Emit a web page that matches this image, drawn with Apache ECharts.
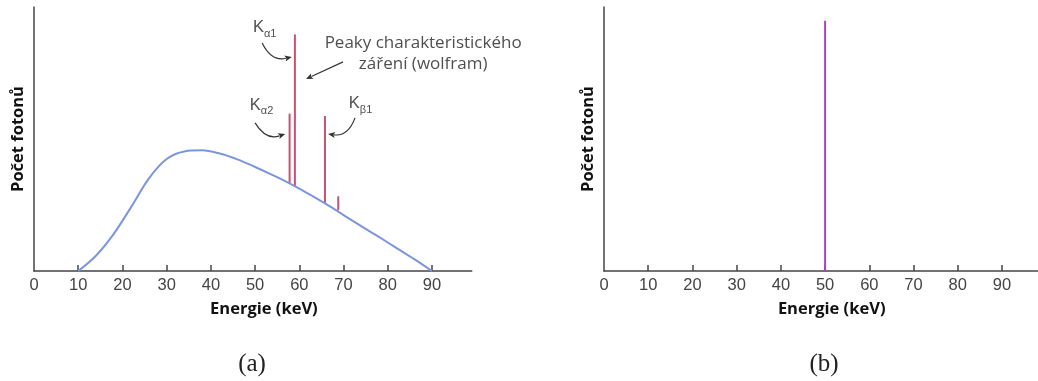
<!DOCTYPE html>
<html>
<head>
<meta charset="utf-8">
<script src="https://cdn.jsdelivr.net/npm/echarts@6/dist/echarts.min.js"></script>
<style>
  html, body { margin: 0; padding: 0; background: #fff; }
  #chart { width: 1038px; height: 381px; }
</style>
</head>
<body>
<div id="chart"></div>
<script>
// (a) continuous bremsstrahlung spectrum of a tungsten anode
const spectrumEnergy = [10, 14, 18, 22, 26, 30, 34, 38, 42, 46, 50, 54, 58, 62, 66, 70, 74, 78, 82, 86, 90];
const spectrumCounts = [0, 5.8, 14, 24.3, 35.1, 42.4, 45.3, 45.7, 44.5, 42.3, 39.4, 36.3, 33, 29.3, 25.4, 21.2, 17, 12.9, 8.7, 4.5, 0];

// (a) characteristic lines: energy, foot (on the continuum) and top
const lineNames  = ['Kα2', 'Kα1', 'Kβ1', ''];
const lineEnergy = [57.8, 59.0, 65.8, 68.8];
const lineBase   = [33.0, 32.2, 25.8, 23.0];
const lineTop    = [59.6, 89.6, 58.7, 28.3];

// (b) monoenergetic beam
const monoEnergy = [50];
const monoBase   = [0];
const monoTop    = [94.8];

// axis ticks and labels (keV)
const tickValues  = [10, 20, 30, 40, 50, 60, 70, 80, 90];
const labelValues = [0, 10, 20, 30, 40, 50, 60, 70, 80, 90];

// annotation anchors in data units (keV, counts)
const kLabelText = ['{k|K}{s|α2}', '{k|K}{s|α1}', '{k|K}{s|β1}'];
const kLabelX = [48.8, 49.5, 71.2];
const kLabelY = [61.4, 90.9, 62.1];
const arrowFrom = [[50.0, 56.1], [51.6, 86.4], [72.6, 58.0], [69.9, 79.2]];
const arrowTo   = [[56.8, 51.9], [58.3, 81.1], [66.5, 51.9], [61.5, 72.7]];
const arrowBend = [-0.4, -0.4, 0.4, 0];
const noteText = 'Peaky charakteristického\nzáření (wolfram)';
const notePos = [88.0, 82.4];

const chart = echarts.init(document.getElementById('chart'), null, { renderer: 'canvas' });

const axisColor = '#444';
const pxPerKeV = 4.422;

function xAxisFor(gridIndex, max) {
  return {
    type: 'value', gridIndex, min: 0, max, interval: 10,
    name: 'Energie (keV)', nameLocation: 'middle', nameGap: 30,
    nameTextStyle: { fontFamily: 'Open Sans', fontWeight: 'bold', fontSize: 16.5, color: '#111', padding: [0, 0, 0, 22] },
    axisLine: { show: true, onZero: false, lineStyle: { color: axisColor, width: 1.5 } },
    axisTick: { show: true, inside: true, length: 6, customValues: tickValues, lineStyle: { color: axisColor, width: 1.5 } },
    axisLabel: { show: true, margin: 6, customValues: labelValues, fontFamily: 'Liberation Sans', fontSize: 16.5, color: '#444' },
    splitLine: { show: false }
  };
}
function yAxisFor(gridIndex) {
  return {
    type: 'value', gridIndex, min: 0, max: 100,
    name: 'Počet fotonů', nameLocation: 'middle', nameRotate: 90, nameGap: 7,
    nameTextStyle: { fontFamily: 'Open Sans', fontWeight: 'bold', fontSize: 16.5, color: '#111' },
    axisLine: { show: true, lineStyle: { color: axisColor, width: 1.5 } },
    axisTick: { show: false },
    axisLabel: { show: false },
    splitLine: { show: false }
  };
}

// vertical stick from [x, base] to [x, top]
function renderStick(params, api) {
  const p0 = api.coord([api.value(0), api.value(1)]);
  const p1 = api.coord([api.value(0), api.value(2)]);
  return {
    type: 'line',
    shape: { x1: p0[0], y1: p0[1], x2: p1[0], y2: p1[1] },
    style: { stroke: api.visual('color'), lineWidth: 2 }
  };
}

// curved pointer arrow from [x0, y0] to [x1, y1], bent by the last value
function renderArrow(params, api) {
  const a = api.coord([api.value(0), api.value(1)]);
  const b = api.coord([api.value(2), api.value(3)]);
  const bend = api.value(4);
  const cx = (a[0] + b[0]) / 2 - (a[1] - b[1]) * bend;
  const cy = (a[1] + b[1]) / 2 - (b[0] - a[0]) * bend;
  let dx = b[0] - cx, dy = b[1] - cy;
  const len = Math.hypot(dx, dy) || 1;
  dx /= len; dy /= len;
  const headL = 7, headW = 3;
  const hx = b[0] - dx * headL, hy = b[1] - dy * headL;
  return {
    type: 'group',
    children: [
      {
        type: 'bezierCurve',
        shape: { x1: a[0], y1: a[1], x2: hx + dx, y2: hy + dy, cpx1: cx, cpy1: cy },
        style: { stroke: '#333', lineWidth: 1.2, fill: null }
      },
      {
        type: 'polygon',
        shape: { points: [[b[0], b[1]], [hx - dy * headW, hy + dx * headW], [hx + dx * 1.5, hy + dy * 1.5], [hx + dy * headW, hy - dx * headW]] },
        style: { fill: '#333' }
      }
    ]
  };
}

const option = {
  animation: false,
  backgroundColor: '#fff',
  grid: [
    { left: 34, top: 7, width: 99 * pxPerKeV, height: 264 },
    { left: 604, top: 7, width: 98 * pxPerKeV, height: 264 }
  ],
  xAxis: [xAxisFor(0, 99), xAxisFor(1, 98)],
  yAxis: [yAxisFor(0), yAxisFor(1)],
  graphic: [
    { type: 'text', x: 252, y: 364, style: { text: '(a)', fontFamily: 'Liberation Serif', fontSize: 25, fill: '#222', align: 'center', verticalAlign: 'middle' } },
    { type: 'text', x: 824, y: 364, style: { text: '(b)', fontFamily: 'Liberation Serif', fontSize: 25, fill: '#222', align: 'center', verticalAlign: 'middle' } }
  ],
  series: [
    {
      name: 'Brzdné záření', type: 'line', xAxisIndex: 0, yAxisIndex: 0,
      data: spectrumEnergy.map((e, i) => [e, spectrumCounts[i]]),
      smooth: 0.35, showSymbol: false, silent: true,
      lineStyle: { color: '#7b96e0', width: 2 }
    },
    {
      name: 'Charakteristické záření', type: 'custom', xAxisIndex: 0, yAxisIndex: 0,
      renderItem: renderStick, silent: true,
      itemStyle: { color: '#cc5072' },
      encode: { x: 0, y: [1, 2] },
      data: lineEnergy.map((e, i) => [e, lineBase[i], lineTop[i]])
    },
    {
      name: 'Šipky', type: 'custom', xAxisIndex: 0, yAxisIndex: 0,
      renderItem: renderArrow, silent: true,
      encode: { x: [0, 2], y: [1, 3] },
      data: arrowFrom.map((f, i) => [f[0], f[1], arrowTo[i][0], arrowTo[i][1], arrowBend[i]])
    },
    {
      name: 'Popisky', type: 'scatter', xAxisIndex: 0, yAxisIndex: 0,
      symbolSize: 0, silent: true,
      data: kLabelX.map((x, i) => ({ value: [x, kLabelY[i]], label: { formatter: kLabelText[i] } }))
        .concat([{ value: notePos, label: {
          formatter: noteText, position: 'inside', align: 'center', verticalAlign: 'middle',
          fontFamily: 'Open Sans', fontSize: 17, lineHeight: 21, color: '#222'
        } }]),
      label: {
        show: true, position: 'right', distance: 0,
        rich: {
          k: { fontFamily: 'Liberation Sans', fontSize: 16.5, lineHeight: 16, color: '#222', verticalAlign: 'bottom', padding: [0, 0, 3, 0] },
          s: { fontFamily: 'Liberation Sans', fontSize: 11, lineHeight: 12, color: '#222', verticalAlign: 'bottom' }
        }
      }
    },
    {
      name: 'Monoenergetický svazek', type: 'custom', xAxisIndex: 1, yAxisIndex: 1,
      renderItem: renderStick, silent: true,
      itemStyle: { color: '#a846b8' },
      encode: { x: 0, y: [1, 2] },
      data: monoEnergy.map((e, i) => [e, monoBase[i], monoTop[i]])
    }
  ]
};

chart.setOption(option);
</script>
</body>
</html>
